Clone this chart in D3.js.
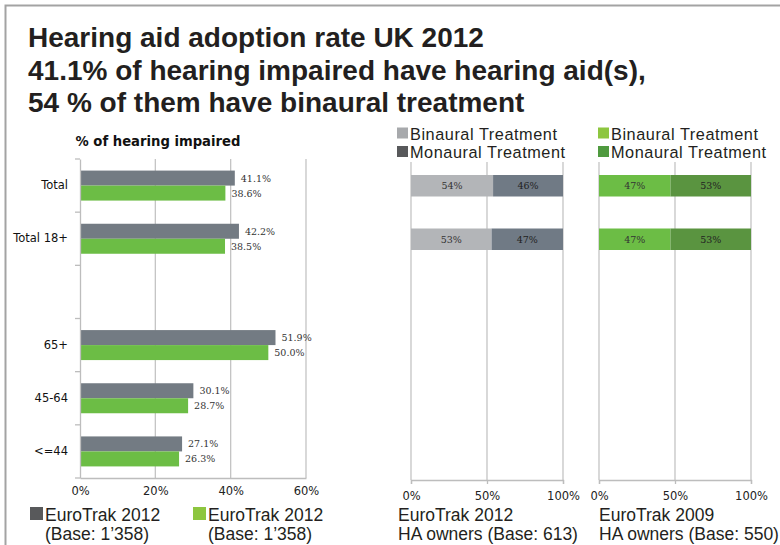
<!DOCTYPE html>
<html>
<head>
<meta charset="utf-8">
<script src="https://cdn.jsdelivr.net/npm/d3@7"></script>
<style>
  html, body { margin: 0; padding: 0; background: #fff; }
  svg { display: block; }
</style>
</head>
<body>
<svg id="chart" width="780" height="545"></svg>
<script>
// Adoption rate by age group (share of hearing impaired owning hearing aids)
const ageGroups = ["Total", "Total 18+", "", "65+", "45-64", "<=44"];
const adoptionA = [41.1, 42.2, null, 51.9, 30.1, 27.1];
const adoptionB = [38.6, 38.5, null, 50.0, 28.7, 26.3];
const adoptionTicks = [0, 20, 40, 60];

// Binaural vs monaural treatment among hearing aid owners
const treatRows = ["Row 1", "Row 2", "", "", "", ""];
const binaural2012 = [54, 53];
const monaural2012 = [46, 47];
const binaural2009 = [47, 47];
const monaural2009 = [53, 53];
const shareTicks = [0, 50, 100];

const titleLines = [
  "Hearing aid adoption rate UK 2012",
  "41.1% of hearing impaired have hearing aid(s),",
  "54 % of them have binaural treatment"
];

const svg = d3.select("#chart");
const helv = "'Liberation Sans', Arial, Helvetica, sans-serif";
const verd = "'DejaVu Sans', Verdana, sans-serif";
const valFont = "'DejaVu Serif', Georgia, serif";

// frame
svg.append("path")
  .attr("d", "M5.5,545 L5.5,5.5 L780,5.5")
  .attr("fill", "none").attr("stroke", "#a3a3a3").attr("stroke-width", 2);

// title
svg.append("g").selectAll("text").data(titleLines).join("text")
  .attr("x", 28).attr("y", (d, i) => 47 + i * 32.5)
  .attr("font-family", helv).attr("font-weight", "bold")
  .attr("font-size", 28).attr("fill", "#231f20")
  .text(d => d);

// ---------- left chart ----------
const plotTop = 159, plotBottom = 478;
const xL = d3.scaleLinear().domain([0, 60]).range([80, 306]);
const yL = d3.scaleBand().domain(ageGroups.map((d, i) => i)).range([plotTop, plotBottom]);

const left = svg.append("g");
left.append("text").attr("x", 158).attr("y", 146).attr("text-anchor", "middle")
  .attr("font-family", verd).attr("font-weight", "bold").attr("font-size", 13.2)
  .attr("fill", "#111").text("% of hearing impaired");

// gridlines
left.append("g").selectAll("line").data(adoptionTicks.slice(1)).join("line")
  .attr("x1", d => xL(d)).attr("x2", d => xL(d)).attr("y1", plotTop).attr("y2", plotBottom)
  .attr("stroke", "#c4c4c4").attr("stroke-width", 1.3);

const barH = 15;
const groupOff = (yL.bandwidth() - 2 * barH) / 2;
const idx = d3.range(ageGroups.length).filter(i => adoptionA[i] != null);

left.append("g").selectAll("rect").data(idx).join("rect")
  .attr("x", xL(0)).attr("y", i => yL(i) + groupOff)
  .attr("width", i => xL(adoptionA[i]) - xL(0)).attr("height", barH)
  .attr("fill", "#737b83");
left.append("g").selectAll("rect").data(idx).join("rect")
  .attr("x", xL(0)).attr("y", i => yL(i) + groupOff + barH)
  .attr("width", i => xL(adoptionB[i]) - xL(0)).attr("height", barH)
  .attr("fill", "#6cbd45");

left.append("g").selectAll("text").data(idx).join("text")
  .attr("x", i => xL(adoptionA[i]) + 6).attr("y", i => yL(i) + groupOff + barH / 2 + 3.5)
  .attr("font-family", valFont).attr("font-size", 9.5).attr("fill", "#333")
  .text(i => adoptionA[i].toFixed(1) + "%");
left.append("g").selectAll("text").data(idx).join("text")
  .attr("x", i => xL(adoptionB[i]) + 6).attr("y", i => yL(i) + groupOff + barH * 1.5 + 3.5)
  .attr("font-family", valFont).attr("font-size", 9.5).attr("fill", "#333")
  .text(i => adoptionB[i].toFixed(1) + "%");

// axes
const axL = d3.axisBottom(xL).tickValues(adoptionTicks).tickFormat(d => d + "%").tickSize(0).tickPadding(9);
const gx = left.append("g").attr("transform", `translate(0,${plotBottom})`).call(axL);
gx.select(".domain").attr("stroke", "#bdbdbd").attr("stroke-width", 1.3);
gx.selectAll("text").attr("font-family", verd).attr("font-size", 11.5).attr("fill", "#222");

const axY = d3.axisLeft(yL).tickFormat(i => ageGroups[i]).tickSize(0).tickPadding(12);
const gy = left.append("g").attr("transform", `translate(${xL(0)},0)`).call(axY);
gy.select(".domain").attr("stroke", "#bdbdbd").attr("stroke-width", 1.3);
gy.selectAll("text").attr("font-family", verd).attr("font-size", 11.5).attr("fill", "#111");
// category separator ticks
left.append("g").selectAll("line").data(d3.range(ageGroups.length + 1)).join("line")
  .attr("x1", xL(0) - 5).attr("x2", xL(0))
  .attr("y1", i => plotTop + i * yL.step()).attr("y2", i => plotTop + i * yL.step())
  .attr("stroke", "#bdbdbd").attr("stroke-width", 1.3);

// left legend
const legL = [
  { x: 30, color: "#58595b", a: "EuroTrak 2012", b: "(Base: 1\u2019358)" },
  { x: 193, color: "#8dc63f", a: "EuroTrak 2012", b: "(Base: 1\u2019358)" }
];
const lg = svg.append("g").selectAll("g").data(legL).join("g");
lg.append("rect").attr("x", d => d.x).attr("y", 507).attr("width", 13).attr("height", 13).attr("fill", d => d.color);
lg.append("text").attr("x", d => d.x + 15).attr("y", 521).attr("font-family", helv).attr("font-size", 17.5).attr("fill", "#231f20").text(d => d.a);
lg.append("text").attr("x", d => d.x + 15).attr("y", 540).attr("font-family", helv).attr("font-size", 17.5).attr("fill", "#231f20").text(d => d.b);

// ---------- right charts ----------
const panels = [
  { x0: 411, x1: 563, bin: binaural2012, mon: monaural2012, cB: "#b3b5b8", cM: "#707a85",
    lB: "#a7a9ac", lM: "#58595b", lx: 397, capA: "EuroTrak 2012", capB: "HA owners (Base: 613)", cx: 398 },
  { x0: 599, x1: 751, bin: binaural2009, mon: monaural2009, cB: "#6cbd45", cM: "#5a9440",
    lB: "#8dc63f", lM: "#4f9a3f", lx: 598, capA: "EuroTrak 2009", capB: "HA owners (Base: 550)", cx: 599 }
];
const yR = d3.scaleBand().domain(treatRows.map((d, i) => i)).range([plotTop, plotBottom + 2]);
const rowH = 21.5;

panels.forEach(p => {
  const x = d3.scaleLinear().domain([0, 100]).range([p.x0, p.x1]);
  const g = svg.append("g");
  g.append("g").selectAll("line").data(shareTicks).join("line")
    .attr("x1", d => x(d)).attr("x2", d => x(d)).attr("y1", 162).attr("y2", plotBottom + 2)
    .attr("stroke", "#c4c4c4").attr("stroke-width", 1.3);

  const rows = d3.range(p.bin.length);
  const yOf = i => yR(i) + (yR.bandwidth() - rowH) / 2;
  g.append("g").selectAll("rect").data(rows).join("rect")
    .attr("x", x(0)).attr("y", yOf).attr("width", i => x(p.bin[i]) - x(0)).attr("height", rowH)
    .attr("fill", p.cB);
  g.append("g").selectAll("rect").data(rows).join("rect")
    .attr("x", i => x(p.bin[i])).attr("y", yOf).attr("width", i => x(p.bin[i] + p.mon[i]) - x(p.bin[i])).attr("height", rowH)
    .attr("fill", p.cM);
  g.append("g").selectAll("text").data(rows).join("text")
    .attr("x", i => x(p.bin[i] / 2)).attr("y", i => yOf(i) + rowH / 2 + 3.5).attr("text-anchor", "middle")
    .attr("font-family", valFont).attr("font-size", 9.5).attr("fill", "#333").text(i => p.bin[i] + "%");
  g.append("g").selectAll("text").data(rows).join("text")
    .attr("x", i => x(p.bin[i] + p.mon[i] / 2)).attr("y", i => yOf(i) + rowH / 2 + 3.5).attr("text-anchor", "middle")
    .attr("font-family", valFont).attr("font-size", 9.5).attr("fill", "#222").text(i => p.mon[i] + "%");

  const ax = d3.axisBottom(x).tickValues(shareTicks).tickFormat(d => d + "%").tickSize(4).tickPadding(8);
  const ga = g.append("g").attr("transform", `translate(0,${plotBottom + 2})`).call(ax);
  ga.select(".domain").attr("stroke", "#bdbdbd").attr("stroke-width", 1.3);
  ga.selectAll(".tick line").attr("stroke", "#bdbdbd").attr("stroke-width", 1.3);
  ga.selectAll("text").attr("font-family", verd).attr("font-size", 11.5).attr("fill", "#222");

  // legend
  const leg = [{ c: p.lB, t: "Binaural Treatment", y: 127.5 }, { c: p.lM, t: "Monaural Treatment", y: 146 }];
  const lgg = g.append("g").selectAll("g").data(leg).join("g");
  lgg.append("rect").attr("x", p.lx).attr("y", d => d.y).attr("width", 11).attr("height", 11).attr("fill", d => d.c);
  lgg.append("text").attr("x", p.lx + 13).attr("y", d => d.y + 12).attr("font-family", helv)
    .attr("font-size", 16.3).attr("letter-spacing", 0.55).attr("fill", "#231f20").text(d => d.t);

  // caption
  g.append("text").attr("x", p.cx).attr("y", 521).attr("font-family", helv).attr("font-size", 17.5).attr("fill", "#231f20").text(p.capA);
  g.append("text").attr("x", p.cx).attr("y", 540).attr("font-family", helv).attr("font-size", 17.5).attr("fill", "#231f20").text(p.capB);
});
</script>
</body>
</html>
